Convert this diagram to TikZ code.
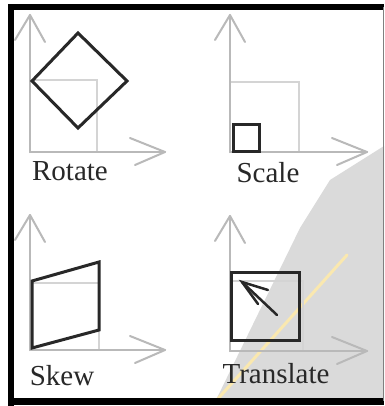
\documentclass[tikz,border=0pt]{standalone}
\usepackage{fontspec}
\setmainfont{Liberation Serif}
\definecolor{axisgray}{RGB}{185,185,185}
\definecolor{ghost}{RGB}{212,212,212}
\definecolor{ink}{RGB}{40,40,40}
\definecolor{wedge}{RGB}{218,218,218}
\definecolor{streak}{RGB}{250,232,175}
\tikzset{
  axis/.style={draw=axisgray,line width=2pt,line cap=round,line join=round},
  ghostsq/.style={draw=ghost,line width=2pt},
  inkshape/.style={draw=ink,line width=3pt,line join=miter},
  lbl/.style={font=\fontsize{29}{30}\selectfont,text=ink,anchor=base,inner sep=0pt},
}
\begin{document}
\begin{tikzpicture}[x=1pt,y=-1pt]
\useasboundingbox (0,0) rectangle (384,406);
\fill[white] (0,0) rectangle (384,406);
% photo wedge and streak
\fill[wedge] (384,146) -- (330,180) -- (300,228) -- (216,400) -- (384,400) -- cycle;
\draw[streak,line width=3pt,line cap=round] (347,255) -- (215,402);
% frame
\draw[black,line width=6pt] (11,406) -- (11,7) -- (384,7);
\draw[black,line width=7pt] (8,401.5) -- (384,401.5);
\draw[gray,line width=1pt] (383,7) -- (383,401);

% ---------- Rotate ----------
\coordinate (ro) at (30,152);
\coordinate (ry) at (30,15);
\coordinate (rx) at (165,152);
\draw[ghostsq] (30,80) rectangle (97,152);
\draw[axis] (ro) -- (ry);
\draw[axis] (ry) ++(-15,25) -- (ry) -- ++(15,27);
\draw[axis] (ro) -- (rx);
\draw[axis] (rx) ++(-35,-14) -- (rx) -- ++(-30,13);
\draw[inkshape] (78,33) -- (127,81) -- (78,128) -- (32,81) -- cycle;
\node[lbl] (trot) at (70,180) {Rotate};

% ---------- Scale ----------
\coordinate (so) at (230,152);
\coordinate (sy) at (230,15);
\coordinate (sx) at (367,152);
\draw[ghostsq] (230,82) rectangle (299,152);
\draw[axis] (so) -- (sy);
\draw[axis] (sy) ++(-15,25) -- (sy) -- ++(15,27);
\draw[axis] (so) -- (sx);
\draw[axis] (sx) ++(-35,-14) -- (sx) -- ++(-30,13);
\draw[inkshape] (233,125) rectangle (259,151);
\node[lbl] (tsca) at (268,182) {Scale};

% ---------- Skew ----------
\coordinate (ko) at (30,350);
\coordinate (ky) at (30,215);
\coordinate (kx) at (165,350);
\draw[ghostsq] (30,283) rectangle (99,350);
\draw[axis] (ko) -- (ky);
\draw[axis] (ky) ++(-15,25) -- (ky) -- ++(15,27);
\draw[axis] (ko) -- (kx);
\draw[axis] (kx) ++(-35,-14) -- (kx) -- ++(-30,13);
\draw[inkshape] (32,281) -- (99,262) -- (99,330) -- (32,348) -- cycle;
\node[lbl] (tskw) at (62,385) {Skew};

% ---------- Translate ----------
\coordinate (to) at (230,351);
\coordinate (ty) at (230,216);
\coordinate (tx) at (367,351);
\draw[ghostsq] (230,281) rectangle (303,351);
\draw[axis] (to) -- (ty);
\draw[axis] (ty) ++(-15,25) -- (ty) -- ++(15,27);
\draw[axis] (to) -- (tx);
\draw[axis] (tx) ++(-35,-14) -- (tx) -- ++(-30,13);
\draw[inkshape] (231,272) rectangle (299,340);
\coordinate (atip) at (242,282);
\coordinate (atail) at (277,315);
\draw[ink,line width=2.5pt,line cap=round] (atail) -- (atip);
\draw[ink,line width=2.5pt,line cap=round] (268,290) -- (atip) -- (258,304);
\node[lbl] (ttra) at (276,383) {Translate};
\end{tikzpicture}
\end{document}
